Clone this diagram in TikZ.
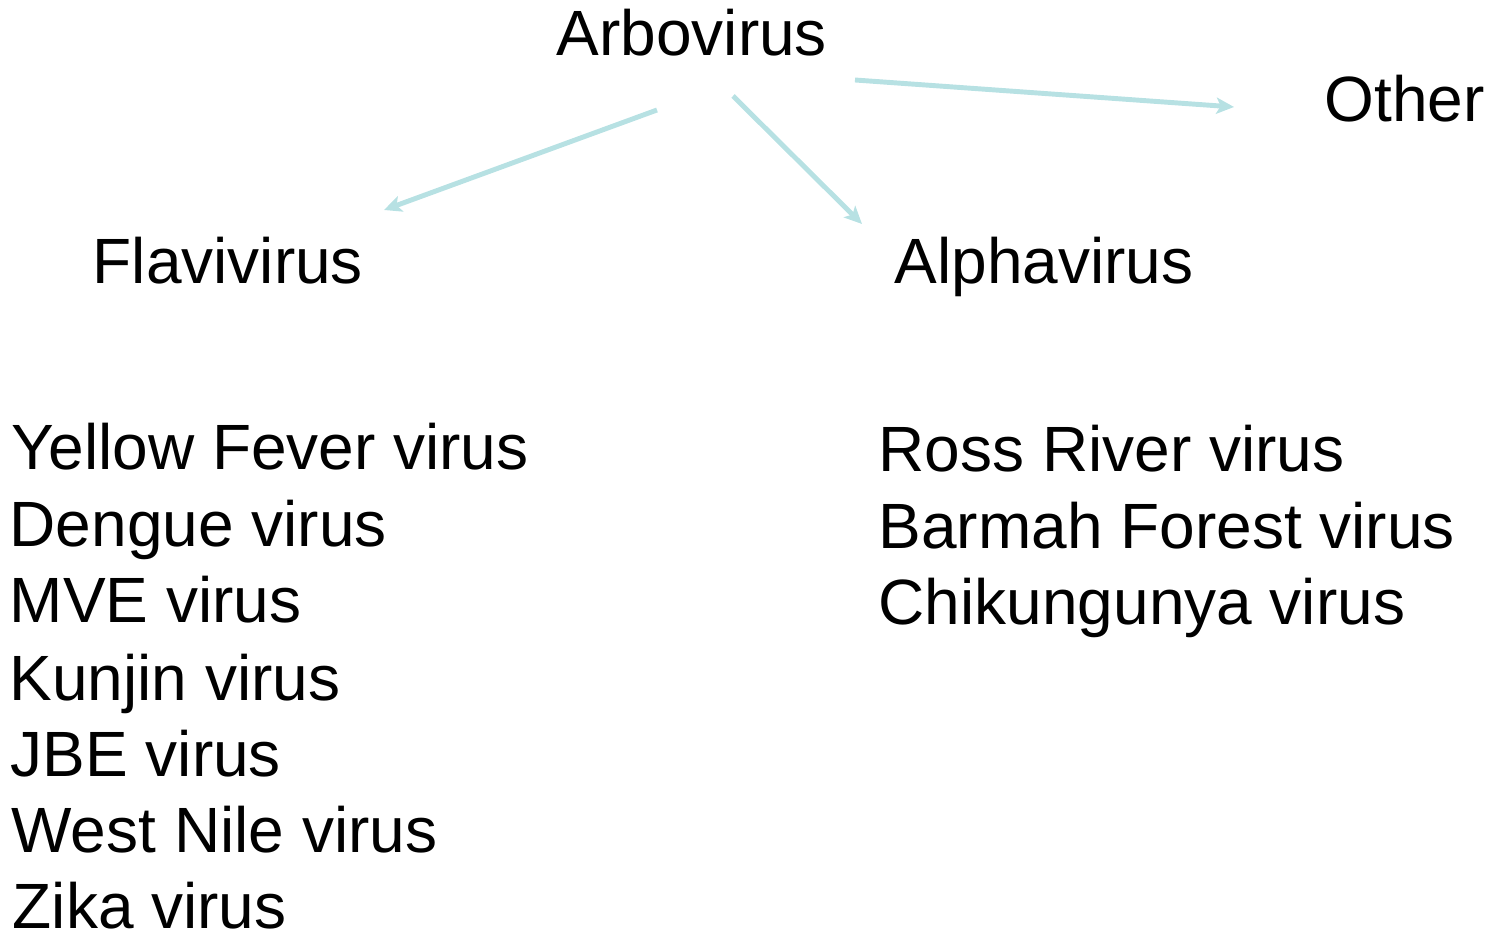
\documentclass[tikz,border=0pt]{standalone}
\usepackage{fontspec}
\setmainfont{Liberation Sans}
\usetikzlibrary{arrows.meta}
\definecolor{arrowblue}{HTML}{B7E1E3}
\begin{document}
\begin{tikzpicture}[x=0.01cm,y=-0.01cm,
  lbl/.style={anchor=base west,inner sep=0pt,font=\fontsize{18.2}{21.7}\selectfont},
  link/.style={draw=arrowblue,line width=1.4pt,-{Stealth[length=5pt,width=4.6pt,inset=1.2pt]}}]
\useasboundingbox (0,0) rectangle (1500,931);
\node[lbl] (arbo) at (556,56) {Arbovirus};
\node[lbl] (other) at (1324,122) {Other};
\node[lbl] (flavi) at (92,284) {Flavivirus};
\node[lbl] (alpha) at (894,284) {Alphavirus};
\node[lbl] (f1) at (11,470) {Yellow Fever virus};
\node[lbl] (f2) at (9,547) {Dengue virus};
\node[lbl] (f3) at (9,623) {MVE virus};
\node[lbl] (f4) at (9,700) {Kunjin virus};
\node[lbl] (f5) at (10,776) {JBE virus};
\node[lbl] (f6) at (11,852) {West Nile virus};
\node[lbl] (f7) at (12,928) {Zika virus};
\node[lbl] (a1) at (878,472) {Ross River virus};
\node[lbl] (a2) at (878,549) {Barmah Forest virus};
\node[lbl] (a3) at (878,625) {Chikungunya virus};
\coordinate (s1) at (657,110);
\coordinate (e1) at (384,210);
\coordinate (s2) at (733,96);
\coordinate (e2) at (862,224);
\coordinate (s3) at (855,80);
\coordinate (e3) at (1234,107);
\draw[link] (s1) -- (e1);
\draw[link] (s2) -- (e2);
\draw[link] (s3) -- (e3);
\end{tikzpicture}
\end{document}
